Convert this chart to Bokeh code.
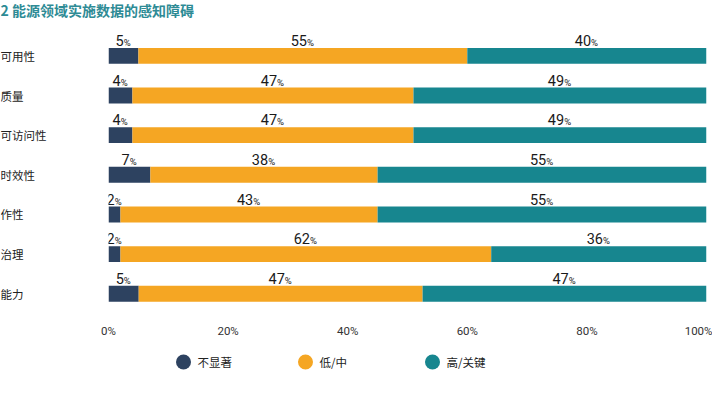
from bokeh.plotting import figure
from bokeh.models import ColumnDataSource, Range1d, FixedTicker, LabelSet
from bokeh.layouts import column, row
from bokeh.embed import file_html
from bokeh.resources import INLINE
from bokeh.core.properties import value

# ---------------- data ----------------
title_text = "2 能源领域实施数据的感知障碍"
categories = ["可用性", "质量", "可访问性", "时效性", "作性", "治理", "能力"]
low_vals = [5, 4, 4, 7, 2, 2, 5]
mid_vals = [55, 47, 47, 38, 43, 62, 47]
high_vals = [40, 49, 49, 55, 55, 36, 47]
series_names = ["不显著", "低/中", "高/关键"]
series_colors = ["#2d4260", "#f5a623", "#17868f"]
x_ticks = [0, 20, 40, 60, 80, 100]
x_tick_labels = ["0%", "20%", "40%", "60%", "80%", "100%"]

# ---------------- layout constants ----------------
W = 712
TITLE_H = 24
LABEL_W = 90
MAIN_W = W - LABEL_W
BL, BR, BT, BB = 18, 6, 7, 22
FRAME_H = 287
MAIN_H = BT + FRAME_H + BB
LEG_H = 38
frame_w = MAIN_W - BL - BR
px_per_x = frame_w / 100.0
y_top, y_bot = -0.615, len(categories) - 1 + 0.575
px_per_row = FRAME_H / (y_bot - y_top)

NUM_FONT = "Roboto"
CJK_FONT = "Noto Sans CJK SC"


def blank(fig):
    fig.outline_line_color = None
    fig.xgrid.grid_line_color = None
    fig.ygrid.grid_line_color = None
    fig.background_fill_color = "white"
    fig.border_fill_color = "white"


# ---------------- title strip ----------------
tf = figure(width=W, height=TITLE_H, output_backend="svg", toolbar_location=None,
            x_range=Range1d(0, W), y_range=Range1d(TITLE_H, 0),
            x_axis_location=None, y_axis_location=None,
            min_border_left=0, min_border_right=0, min_border_top=0, min_border_bottom=0)
blank(tf)
tf.text(x=[0], y=[9.5], text=[title_text], text_align="left", text_baseline="middle",
        text_font=value(CJK_FONT), text_font_style="bold", text_font_size="14px",
        text_color="#2e8b95")

# ---------------- main chart ----------------
yr = Range1d(y_bot, y_top)
p = figure(width=MAIN_W, height=MAIN_H, output_backend="svg", toolbar_location=None,
           x_range=Range1d(0, 100), y_range=yr,
           y_axis_location=None, min_border_left=BL, min_border_right=BR,
           min_border_top=BT, min_border_bottom=BB)
p.outline_line_color = None
p.background_fill_color = "white"
p.border_fill_color = "white"

ys = list(range(len(categories)))
segs = []
for lo, mi, hi in zip(low_vals, mid_vals, high_vals):
    t = lo + mi + hi
    segs.append((lo * 100.0 / t, mi * 100.0 / t, hi * 100.0 / t))

bar_h = 16 / px_per_row
starts = [0.0] * len(ys)
label_x, label_y, label_num, label_off = [], [], [], []
series_vals = [low_vals, mid_vals, high_vals]
dw, pw = 7.9, 7.5
for k in range(3):
    lefts, rights = [], []
    for i in ys:
        w = segs[i][k]
        lefts.append(starts[i])
        rights.append(starts[i] + w)
        label_x.append(starts[i] + w / 2)
        label_y.append(i - 10 / px_per_row)
        s = str(series_vals[k][i])
        nd = len(s)
        total = nd * dw + pw
        label_num.append(s)
        label_off.append(-total / 2 + nd * dw)
        starts[i] = starts[i] + w
    src = ColumnDataSource(dict(y=ys, left=lefts, right=rights))
    p.hbar(y="y", left="left", right="right", height=bar_h, source=src,
           fill_color=series_colors[k], line_color=None)

lab_src = ColumnDataSource(dict(x=label_x, y=label_y, t=label_num,
                                pct=["%"] * len(label_x), off=label_off))
p.add_layout(LabelSet(x="x", y="y", text="t", source=lab_src, x_offset="off",
                      text_align="right", text_baseline="alphabetic",
                      text_font=value(NUM_FONT), text_font_size="14.5px", text_color="#1a1a1a"))
p.add_layout(LabelSet(x="x", y="y", text="pct", source=lab_src, x_offset="off",
                      text_align="left", text_baseline="alphabetic",
                      text_font=value(NUM_FONT), text_font_size="9.5px", text_color="#1a1a1a"))

p.xaxis.ticker = FixedTicker(ticks=x_ticks)
p.xaxis.major_label_overrides = {t: l for t, l in zip(x_ticks, x_tick_labels)}
p.xaxis.axis_line_color = None
p.xaxis.major_tick_line_color = None
p.xaxis.minor_tick_line_color = None
p.xaxis.major_tick_out = 0
p.xaxis.major_tick_in = 0
p.xaxis.major_label_standoff = 7
p.xaxis.major_label_text_font = "Roboto"
p.xaxis.major_label_text_font_size = "11.5px"
p.xaxis.major_label_text_color = "#333333"
p.xgrid.ticker = FixedTicker(ticks=[x_ticks[0], x_ticks[-1]])
p.xgrid.grid_line_color = "#dcdcdc"
p.xgrid.grid_line_width = 1.5
p.ygrid.grid_line_color = None

# ---------------- category label column ----------------
lf = figure(width=LABEL_W, height=MAIN_H, output_backend="svg", toolbar_location=None,
            x_range=Range1d(0, LABEL_W), y_range=yr,
            x_axis_location=None, y_axis_location=None,
            min_border_left=0, min_border_right=0, min_border_top=BT, min_border_bottom=BB)
blank(lf)
lf.text(x=[0] * len(categories), y=ys, text=categories, text_align="left",
        text_baseline="middle", text_font=value(CJK_FONT), text_font_size="11.5px",
        text_color="#222222")

# ---------------- legend strip ----------------
leg = figure(width=W, height=LEG_H, output_backend="svg", toolbar_location=None,
             x_range=Range1d(0, W), y_range=Range1d(LEG_H, 0),
             x_axis_location=None, y_axis_location=None,
             min_border_left=0, min_border_right=0, min_border_top=0, min_border_bottom=0)
blank(leg)
leg_x = [183, 305, 432]
leg_y = 21.5
leg_src = ColumnDataSource(dict(x=leg_x, y=[leg_y] * 3, c=series_colors, t=series_names))
leg.scatter(x="x", y="y", size=15, marker="circle", fill_color="c", line_color=None,
            source=leg_src)
leg.text(x="x", y="y", text="t", x_offset=14, text_align="left", text_baseline="middle",
         text_font=value(CJK_FONT), text_font_size="11.5px", text_color="#222222", source=leg_src)

layout = column(tf, row(lf, p, spacing=0), leg, spacing=0)
open("out.html", "w").write(file_html(layout, INLINE))
